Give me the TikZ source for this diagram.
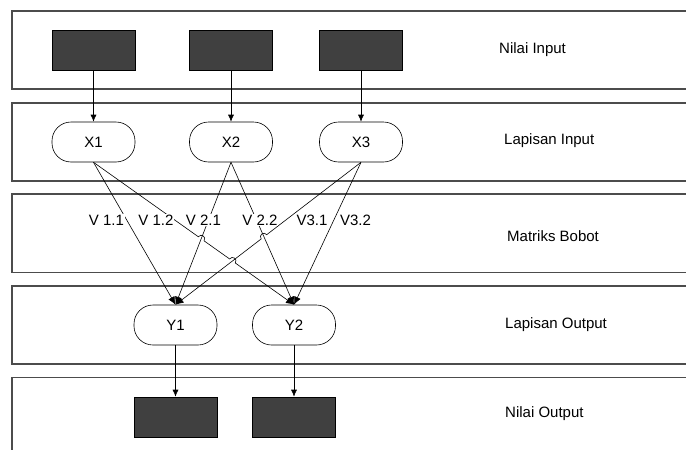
\documentclass[tikz,border=0pt]{standalone}
\usepackage{fontspec}
\setmainfont{Liberation Sans}
\usetikzlibrary{arrows.meta,calc,intersections}

\tikzset{
  band/.style={draw=black!70, line width=1.1pt},
  valbox/.style={draw=black, fill=black!75, line width=0.6pt,
    minimum width=83pt, minimum height=40pt, inner sep=0pt},
  neuron/.style={draw=black, fill=white, line width=0.6pt, rounded corners=19pt,
    minimum width=83pt, minimum height=40pt, inner sep=0pt,
    font=\fontsize{15}{17}\selectfont},
  caption/.style={anchor=west, inner sep=0pt, font=\fontsize{15}{17}\selectfont},
  weight/.style={fill=white, inner sep=0.6pt, font=\fontsize{15}{17}\selectfont},
  feed/.style={draw=black, line width=0.6pt, -{Latex[length=7pt,width=6pt]}},
  link/.style={draw=black, line width=0.6pt},
  linkarrow/.style={link, -{Latex[length=8pt,width=7pt]}}
}

\begin{document}
\begin{tikzpicture}[x=1pt,y=-1pt]
\useasboundingbox (0,0) rectangle (686,450);

% layer bands (open on the right)
\draw[band] (686,11) -- (12,11) -- (12,89) -- (686,89);
\draw[band] (686,103) -- (12,103) -- (12,181) -- (686,181);
\draw[band] (686,194) -- (12,194) -- (12,272.5) -- (686,272.5);
\draw[band] (686,286) -- (12,286) -- (12,364) -- (686,364);
\draw[band] (686,377.5) -- (12,377.5) -- (12,450);

% layer captions
\node[caption] (capA) at (499,50) {Nilai Input};
\node[caption] (capB) at (504,141) {Lapisan Input};
\node[caption] (capC) at (507,236) {Matriks Bobot};
\node[caption] (capD) at (505,325) {Lapisan Output};
\node[caption] (capE) at (505,414) {Nilai Output};

% input values
\node[valbox] (i1) at (93.5,50) {};
\node[valbox] (i2) at (231,50) {};
\node[valbox] (i3) at (361,50) {};

% input neurons
\node[neuron] (x1) at (93.5,142) {X1};
\node[neuron] (x2) at (231,142) {X2};
\node[neuron] (x3) at (361,142) {X3};

% output neurons
\node[neuron] (y1) at (175.5,325) {Y1};
\node[neuron] (y2) at (294,325) {Y2};

% output values
\node[valbox] (o1) at (175.5,417) {};
\node[valbox] (o2) at (294,417) {};

% feed arrows
\draw[feed] (i1) -- (x1);
\draw[feed] (i2) -- (x2);
\draw[feed] (i3) -- (x3);
\draw[feed] (y1) -- (o1);
\draw[feed] (y2) -- (o2);

% crossing points of the weight links
\path[name path=p12] (x1.south) -- (y2.north);
\path[name path=p21] (x2.south) -- (y1.north);
\path[name path=p31] (x3.south) -- (y1.north);
\path[name path=p22] (x2.south) -- (y2.north);
\path[name intersections={of=p12 and p21, by=ca}];
\path[name intersections={of=p31 and p22, by=cb}];
\path[name intersections={of=p12 and p31, by=cc}];

% straight weight links
\draw[linkarrow] (x1.south) -- (y1.north);
\draw[linkarrow] (x2.south) -- (y1.north);
\draw[linkarrow] (x2.south) -- (y2.north);
\draw[linkarrow] (x3.south) -- (y2.north);

% X1 -> Y2 with line jumps over X2->Y1 and X3->Y1
\coordinate (a1) at ($(ca)!3.5pt!(x1.south)$);
\coordinate (a2) at ($(ca)!3.5pt!(y2.north)$);
\coordinate (b1) at ($(cc)!3.5pt!(x1.south)$);
\coordinate (b2) at ($(cc)!3.5pt!(y2.north)$);
\draw[linkarrow] (x1.south) -- (a1)
  .. controls ($(a1)!4.7pt!90:(a2)$) and ($(a2)!4.7pt!-90:(a1)$) .. (a2)
  -- (b1)
  .. controls ($(b1)!4.7pt!90:(b2)$) and ($(b2)!4.7pt!-90:(b1)$) .. (b2)
  -- (y2.north);

% X3 -> Y1 with line jump over X2->Y2
\coordinate (d1) at ($(cb)!3.5pt!(x3.south)$);
\coordinate (d2) at ($(cb)!3.5pt!(y1.north)$);
\draw[linkarrow] (x3.south) -- (d1)
  .. controls ($(d1)!4.7pt!-90:(d2)$) and ($(d2)!4.7pt!90:(d1)$) .. (d2)
  -- (y1.north);

% weight labels
\node[weight] (v11) at (106.5,220) {V 1.1};
\node[weight] (v12) at (156,220) {V 1.2};
\node[weight] (v21) at (203.5,220) {V 2.1};
\node[weight] (v22) at (260,220) {V 2.2};
\node[weight] (v31) at (312,220) {V3.1};
\node[weight] (v32) at (355.5,220) {V3.2};
\end{tikzpicture}
\end{document}
